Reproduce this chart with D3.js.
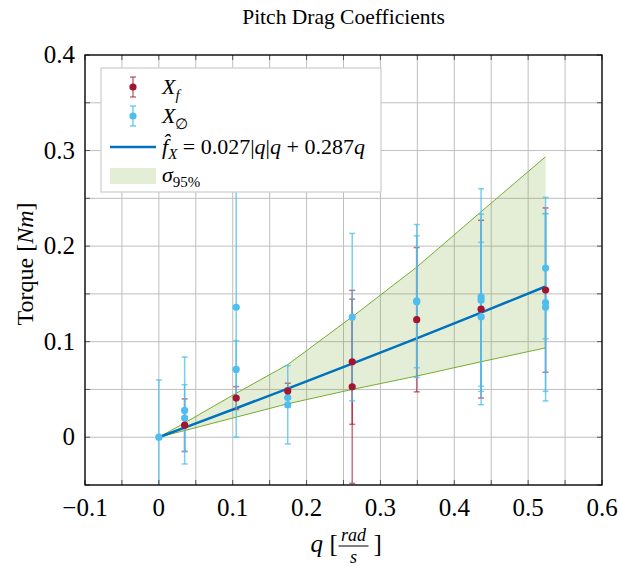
<!DOCTYPE html>
<html>
	<head>
		<meta charset="utf-8" />
		<title>Pitch Drag Coefficients</title>
		<script src="https://d3js.org/d3.v7.min.js"></script>
		<style>
			body { margin: 0; background: #fff; }
			text { font-family: "Liberation Serif", "Times New Roman", serif; fill: #000; }
		</style>
	</head>
	<body>
		<svg width="620" height="567"></svg>
		<script>
			// pitch rates where the tests were run (rad/s)
			const qSteps = [0, 0.0349, 0.1047, 0.1745, 0.2618, 0.3491, 0.4363, 0.5236];

			// X_f measurements
			const xfQ = [0.0349, 0.1047, 0.1745, 0.2618, 0.2618, 0.3491, 0.4363, 0.5236];
			const xfVal = [0.0126, 0.041, 0.0485, 0.079, 0.0527, 0.123, 0.134, 0.154];
			const xfErr = [0.0275, 0.012, 0.008, 0.0655, 0.101, 0.0755, 0.093, 0.086];

			// X_empty measurements
			const xoQ = [0, 0.0349, 0.0349, 0.1047, 0.1047, 0.1745, 0.1745, 0.2618, 0.3491, 0.3491, 0.4363, 0.4363, 0.4363, 0.5236, 0.5236, 0.5236];
			const xoVal = [0, 0.028, 0.02, 0.136, 0.071, 0.0415, 0.034, 0.1257, 0.1426, 0.1418, 0.147, 0.1434, 0.126, 0.177, 0.141, 0.136];
			const xoErr = [0.06, 0.056, 0.035, 0.136, 0.03, 0.01, 0.041, 0.0876, 0.08, 0.069, 0.113, 0.09, 0.078, 0.074, 0.093, 0.098];

			// fitted model and its 95% band, read at the test rates
			const fitVal = [0, 0.0101, 0.0303, 0.0509, 0.077, 0.1035, 0.1304, 0.1577];
			const bandUpper = [0, 0.015, 0.046, 0.076, 0.126, 0.178, 0.236, 0.2935];
			const bandLower = [0, 0.007, 0.021, 0.035, 0.05, 0.064, 0.079, 0.0935];

			const xTicks = [-0.1, 0, 0.1, 0.2, 0.3, 0.4, 0.5, 0.6];
			const yTicks = [0, 0.1, 0.2, 0.3, 0.4];

			const red = "#A2142F";
			const blue = "#4DBEEE";
			const fitColor = "#0072BD";
			const green = "#77AC30";

			const svg = d3.select("svg");
			const pL = 85, pR = 602, pT = 55, pB = 485;

			const x = d3.scaleLinear().domain([-0.1, 0.6]).range([pL, pR]);
			const y = d3.scaleLinear().domain([-0.05, 0.4]).range([pB, pT]);

			svg.append("clipPath").attr("id", "plotclip")
				.append("rect")
				.attr("x", pL).attr("y", pT)
				.attr("width", pR - pL).attr("height", pB - pT);

			// grid every 0.05
			const gridX = d3.range(-0.1, 0.6001, 0.05);
			const gridY = d3.range(-0.05, 0.4001, 0.05);
			const grid = svg.append("g").attr("stroke", "#bfbfbf").attr("stroke-width", 1);
			grid.selectAll(".gx").data(gridX).enter().append("line")
				.attr("x1", (d) => x(d)).attr("x2", (d) => x(d))
				.attr("y1", pT).attr("y2", pB);
			grid.selectAll(".gy").data(gridY).enter().append("line")
				.attr("x1", pL).attr("x2", pR)
				.attr("y1", (d) => y(d)).attr("y2", (d) => y(d));

			const plot = svg.append("g").attr("clip-path", "url(#plotclip)");

			// confidence band
			const bandData = qSteps.map((q, i) => ({ q: q, lo: bandLower[i], hi: bandUpper[i] }));
			plot.append("path")
				.datum(bandData)
				.attr("d", d3.area().x((d) => x(d.q)).y0((d) => y(d.lo)).y1((d) => y(d.hi)))
				.attr("fill", green).attr("fill-opacity", 0.2);
			plot.append("path").datum(bandData)
				.attr("d", d3.line().x((d) => x(d.q)).y((d) => y(d.hi)))
				.attr("fill", "none").attr("stroke", green).attr("stroke-width", 1);
			plot.append("path").datum(bandData)
				.attr("d", d3.line().x((d) => x(d.q)).y((d) => y(d.lo)))
				.attr("fill", "none").attr("stroke", green).attr("stroke-width", 1);

			// fit line
			plot.append("path")
				.datum(qSteps.map((q, i) => ({ q: q, v: fitVal[i] })))
				.attr("d", d3.line().x((d) => x(d.q)).y((d) => y(d.v)))
				.attr("fill", "none").attr("stroke", fitColor).attr("stroke-width", 2.5);

			function errorBars(g, qs, vals, errs, color, opacity) {
				const data = qs.map((q, i) => ({ q: q, v: vals[i], e: errs[i] }));
				const eg = g.append("g").attr("stroke", color).attr("stroke-opacity", opacity).attr("stroke-width", 1.5);
				data.forEach((d) => {
					eg.append("line").attr("x1", x(d.q)).attr("x2", x(d.q))
						.attr("y1", y(d.v - d.e)).attr("y2", y(d.v + d.e));
					[d.v - d.e, d.v + d.e].forEach((c) => {
						eg.append("line").attr("x1", x(d.q) - 3).attr("x2", x(d.q) + 3)
							.attr("y1", y(c)).attr("y2", y(c));
					});
				});
			}

			errorBars(plot, xfQ, xfVal, xfErr, red, 0.6);
			errorBars(plot, xoQ, xoVal, xoErr, blue, 0.75);

			plot.selectAll(".ptb").data(xoQ).enter().append("circle")
				.attr("cx", (d) => x(d)).attr("cy", (d, i) => y(xoVal[i]))
				.attr("r", 3.6).attr("fill", blue);
			plot.selectAll(".ptr").data(xfQ).enter().append("circle")
				.attr("cx", (d) => x(d)).attr("cy", (d, i) => y(xfVal[i]))
				.attr("r", 3.6).attr("fill", red);

			// frame and inward ticks
			const tk = svg.append("g").attr("stroke", "#555").attr("stroke-width", 1);
			gridX.forEach((d) => {
				tk.append("line").attr("x1", x(d)).attr("x2", x(d)).attr("y1", pB).attr("y2", pB - 5);
				tk.append("line").attr("x1", x(d)).attr("x2", x(d)).attr("y1", pT).attr("y2", pT + 5);
			});
			gridY.forEach((d) => {
				tk.append("line").attr("x1", pL).attr("x2", pL + 5).attr("y1", y(d)).attr("y2", y(d));
				tk.append("line").attr("x1", pR).attr("x2", pR - 5).attr("y1", y(d)).attr("y2", y(d));
			});
			svg.append("rect")
				.attr("x", pL).attr("y", pT)
				.attr("width", pR - pL).attr("height", pB - pT)
				.attr("fill", "none").attr("stroke", "#000").attr("stroke-width", 1.3);

			const fmt = (d) => (d < 0 ? "\u2212" : "") + (d === 0 ? "0" : Math.abs(d).toFixed(1));
			svg.append("g").selectAll("text").data(xTicks).enter().append("text")
				.attr("x", (d) => x(d)).attr("y", pB + 31)
				.attr("text-anchor", "middle").style("font-size", "25px")
				.text(fmt);
			svg.append("g").selectAll("text").data(yTicks).enter().append("text")
				.attr("x", pL - 10).attr("y", (d) => y(d) + 8)
				.attr("text-anchor", "end").style("font-size", "25px")
				.text(fmt);

			// title
			svg.append("text").attr("x", (pL + pR) / 2).attr("y", 24)
				.attr("text-anchor", "middle").style("font-size", "21.5px")
				.text("Pitch Drag Coefficients");

			// y label
			const yl = svg.append("text")
				.attr("transform", `translate(33,${(pT + pB) / 2 - 6}) rotate(-90)`)
				.attr("text-anchor", "middle").style("font-size", "24px");
			yl.append("tspan").text("Torque [");
			yl.append("tspan").style("font-style", "italic").text("Nm");
			yl.append("tspan").text("]");

			// x label with fraction
			const xl = svg.append("g").attr("transform", `translate(${(pL + pR) / 2},552)`);
			xl.append("text").attr("x", -33).attr("y", 0).style("font-size", "25px").style("font-style", "italic").text("q");
			xl.append("text").attr("x", -14).attr("y", 0).style("font-size", "25px").text("[");
			xl.append("text").attr("x", 10).attr("y", -11).attr("text-anchor", "middle")
				.style("font-size", "18px").style("font-style", "italic").text("rad");
			xl.append("line").attr("x1", -5).attr("x2", 25).attr("y1", -6).attr("y2", -6)
				.attr("stroke", "#000").attr("stroke-width", 1);
			xl.append("text").attr("x", 10).attr("y", 11).attr("text-anchor", "middle")
				.style("font-size", "18px").style("font-style", "italic").text("s");
			xl.append("text").attr("x", 30).attr("y", 0).style("font-size", "25px").text("]");

			// legend
			const lg = svg.append("g");
			lg.append("rect").attr("x", 101).attr("y", 68).attr("width", 280).attr("height", 124)
				.attr("fill", "#fff").attr("stroke", "#ccc").attr("stroke-width", 1.2);
			const rowY = [87, 116, 147, 176];
			const symX = 133, textX = 162;
			[[red, 0.6], [blue, 0.75]].forEach(([c, op], i) => {
				const cy = rowY[i];
				const g = lg.append("g").attr("stroke", c).attr("stroke-opacity", op).attr("stroke-width", 1.5);
				g.append("line").attr("x1", symX).attr("x2", symX).attr("y1", cy - 10).attr("y2", cy + 10);
				g.append("line").attr("x1", symX - 3).attr("x2", symX + 3).attr("y1", cy - 10).attr("y2", cy - 10);
				g.append("line").attr("x1", symX - 3).attr("x2", symX + 3).attr("y1", cy + 10).attr("y2", cy + 10);
				lg.append("circle").attr("cx", symX).attr("cy", cy).attr("r", 3.6).attr("fill", c);
			});
			lg.append("line").attr("x1", 110).attr("x2", 156).attr("y1", rowY[2]).attr("y2", rowY[2])
				.attr("stroke", fitColor).attr("stroke-width", 2.5);
			lg.append("rect").attr("x", 110).attr("y", rowY[3] - 8).attr("width", 46).attr("height", 16)
				.attr("fill", green).attr("fill-opacity", 0.2);

			const t1 = lg.append("text").attr("x", textX).attr("y", rowY[0] + 7).style("font-size", "22px");
			t1.append("tspan").style("font-style", "italic").text("X");
			t1.append("tspan").attr("dy", 6).style("font-size", "15px").style("font-style", "italic").text("f");

			const t2 = lg.append("text").attr("x", textX).attr("y", rowY[1] + 7).style("font-size", "22px");
			t2.append("tspan").style("font-style", "italic").text("X");
			t2.append("tspan").attr("dy", 6).style("font-size", "15px").text("\u2205");

			const t3 = lg.append("text").attr("x", textX).attr("y", rowY[2] + 7).style("font-size", "22px");
			t3.append("tspan").style("font-style", "italic").text("f\u0302");
			t3.append("tspan").attr("dy", 5).style("font-size", "15px").style("font-style", "italic").text("X");
			t3.append("tspan").attr("dy", -5).text(" = 0.027|");
			t3.append("tspan").style("font-style", "italic").text("q");
			t3.append("tspan").text("|");
			t3.append("tspan").style("font-style", "italic").text("q");
			t3.append("tspan").text(" + 0.287");
			t3.append("tspan").style("font-style", "italic").text("q");

			const t4 = lg.append("text").attr("x", textX).attr("y", rowY[3] + 6).style("font-size", "22px");
			t4.append("tspan").style("font-style", "italic").text("\u03C3");
			t4.append("tspan").attr("dy", 5).style("font-size", "15px").text("95%");
		</script>
	</body>
</html>
